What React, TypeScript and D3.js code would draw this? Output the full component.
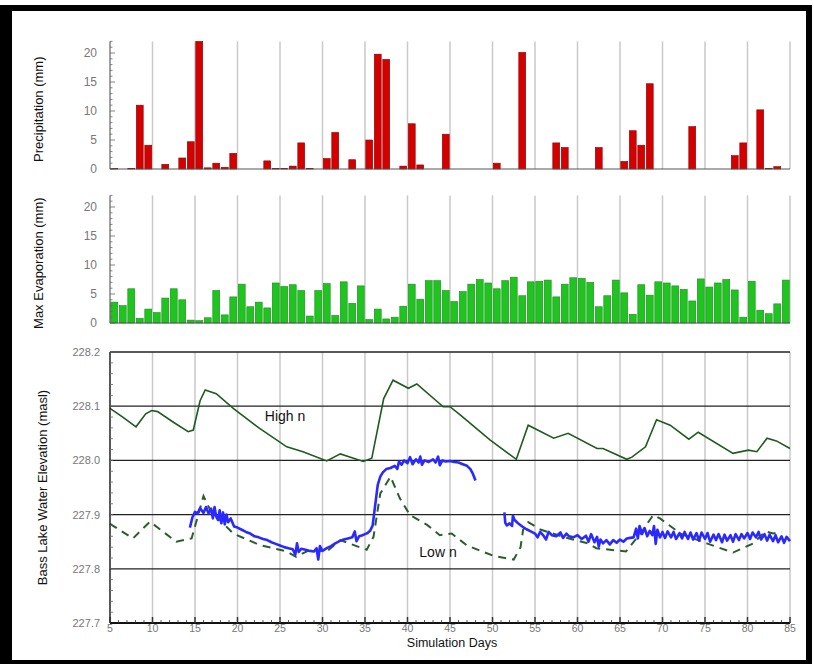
import React, { useEffect, useRef } from "react";
import * as d3 from "d3";

// daily bars, days 5..84
const barDays = d3.range(5, 85);

const precip = [
  0.1, 0, 0.1, 11.0, 4.1, 0, 0.8, 0, 1.9, 4.7,
  22, 0.2, 1.0, 0.3, 2.7, 0, 0, 0, 1.4, 0.1,
  0.1, 0.5, 4.5, 0.1, 0, 1.8, 6.3, 0, 1.6, 0,
  5.0, 19.8, 18.9, 0, 0.5, 7.8, 0.7, 0, 0, 6.0,
  0, 0, 0, 0, 0, 1.0, 0, 0, 20.1, 0,
  0, 0, 4.5, 3.7, 0, 0, 0, 3.7, 0, 0,
  1.3, 6.6, 4.1, 14.7, 0, 0, 0, 0, 7.3, 0,
  0, 0, 0, 2.3, 4.5, 0, 10.2, 0.1, 0.4, 0,
];

const evap = [
  3.6, 3.0, 5.9, 0.8, 2.4, 1.8, 4.3, 5.9, 4.0, 0.5,
  0.4, 0.9, 5.6, 1.4, 4.5, 6.7, 2.8, 3.6, 2.6, 6.9,
  6.3, 6.6, 5.6, 1.2, 5.6, 6.8, 1.3, 7.1, 3.4, 6.4,
  0.6, 2.4, 0.7, 1.0, 2.9, 6.7, 4.1, 7.3, 7.3, 5.6,
  3.7, 5.4, 6.7, 7.5, 6.9, 5.9, 7.3, 7.9, 4.7, 7.1,
  7.2, 7.4, 4.5, 6.7, 7.8, 7.7, 7.0, 2.8, 4.7, 7.4,
  5.2, 1.5, 6.6, 4.8, 7.1, 6.9, 6.4, 5.8, 3.8, 7.6,
  6.2, 6.9, 7.5, 5.7, 1.0, 7.2, 2.2, 1.6, 3.3, 7.4,
];

const barTicks = [0, 5, 10, 15, 20];
const elevTicks = [227.7, 227.8, 227.9, 228.0, 228.1, 228.2];
const dayTicks = d3.range(5, 90, 5);

// [day, elevation]
const highN = [
  [5, 228.096], [6.5, 228.08], [8.06, 228.062], [9.2, 228.086], [9.9, 228.092], [10.6, 228.09],
  [12.5, 228.07], [14.2, 228.053], [14.8, 228.056], [15.6, 228.11],
  [16.2, 228.13], [17.5, 228.123], [19.5, 228.096], [22.6, 228.059], [25.8, 228.025],
  [27.7, 228.016], [30.5, 227.999], [32.1, 228.012], [34.8, 227.998], [35.8, 228.004],
  [37.2, 228.114], [38.3, 228.148], [40.1, 228.133], [41.1, 228.141], [44.2, 228.099],
  [45, 228.099], [46.2, 228.084], [49.7, 228.038], [52.8, 228.002], [54.2, 228.065],
  [57.2, 228.041], [58.9, 228.05], [62.3, 228.022], [63.0, 228.022], [65.8, 228.002],
  [66.4, 228.006], [68.0, 228.025], [69.3, 228.075], [70.9, 228.065], [73.1, 228.039],
  [74.2, 228.052], [78.3, 228.013], [80.1, 228.019], [81.1, 228.016], [82.3, 228.041],
  [83.4, 228.036], [85, 228.022],
];

const lowN = [
  [5, 227.883], [7.7, 227.856], [9.7, 227.887], [12.8, 227.85], [14.6, 227.856],
  [16.0, 227.934], [16.8, 227.908], [19.5, 227.865], [22.6, 227.844], [25.8, 227.832],
  [26.9, 227.822], [28.5, 227.835], [30.5, 227.832], [32.1, 227.853], [35.2, 227.835],
  [36.0, 227.859], [36.8, 227.939], [38.0, 227.97], [39.1, 227.93], [40.3, 227.899],
  [42.3, 227.881], [43.8, 227.862], [45.2, 227.865], [47, 227.843], [50.1, 227.824],
  [52.5, 227.817], [53.3, 227.84], [53.6, 227.872], [54.2, 227.886], [55.7, 227.872],
  [58.5, 227.858], [61.2, 227.847], [62.2, 227.838], [65.7, 227.832], [67.4, 227.865],
  [68.9, 227.899], [69.7, 227.893], [72.1, 227.865], [75.2, 227.847], [78.3, 227.83],
  [80.7, 227.847], [82.1, 227.869], [83, 227.865], [84, 227.868],
];

const obsA = [
  [14.4, 227.876], [14.7, 227.895], [15.0, 227.905], [15.3, 227.902], [15.6, 227.912],
  [16.0, 227.903], [16.3, 227.914], [16.6, 227.902], [16.9, 227.911], [17.1, 227.893],
  [17.3, 227.914], [17.5, 227.896], [17.7, 227.89], [17.9, 227.908], [18.1, 227.884],
  [18.3, 227.904], [18.5, 227.882], [18.7, 227.9], [18.9, 227.886], [19.2, 227.893],
  [19.6, 227.878], [20.0, 227.876], [20.5, 227.872], [21, 227.868], [21.5, 227.865],
  [22, 227.86], [22.5, 227.858], [23, 227.855], [23.5, 227.853], [24, 227.849],
  [24.5, 227.846], [25, 227.843], [25.5, 227.84], [26, 227.838], [26.5, 227.836],
  [26.8, 227.826], [27, 227.847], [27.2, 227.831], [27.5, 227.837], [28, 227.835],
  [28.5, 227.833], [29, 227.832], [29.3, 227.838], [29.5, 227.817], [29.7, 227.842],
  [30, 227.833], [30.5, 227.838], [31, 227.842], [31.5, 227.847], [32, 227.851],
  [32.5, 227.854], [33, 227.856], [33.5, 227.858], [33.8, 227.869], [34, 227.851],
  [34.3, 227.86], [34.7, 227.862], [35, 227.864], [35.3, 227.866], [35.6, 227.87],
  [35.9, 227.88], [36.1, 227.905], [36.3, 227.93], [36.5, 227.955], [36.8, 227.97],
  [37.1, 227.978], [37.5, 227.984], [38, 227.986], [38.5, 227.99], [38.8, 227.984],
  [39, 227.998], [39.3, 227.992], [39.6, 228.0], [40, 227.995], [40.3, 228.006],
  [40.6, 227.993], [41, 228.002], [41.3, 227.996], [41.5, 228.007], [41.7, 227.992],
  [42, 228.0], [42.5, 227.997], [43, 228.002], [43.3, 227.996], [43.6, 228.007],
  [43.8, 227.991], [44.1, 228.0], [44.5, 227.998], [45, 227.999], [45.5, 227.997],
  [46, 227.996], [46.5, 227.993], [47, 227.99], [47.4, 227.984], [47.7, 227.975],
  [48, 227.963],
];

const obsB = [
  [51.4, 227.904], [51.5, 227.885], [51.7, 227.88], [52, 227.884], [52.3, 227.879],
  [52.4, 227.898], [52.6, 227.89], [53, 227.884], [53.5, 227.878], [54, 227.873],
  [54.5, 227.869], [55, 227.865], [55.3, 227.858], [55.6, 227.868], [56, 227.861],
  [56.3, 227.854], [56.6, 227.868], [57, 227.862], [57.5, 227.86], [58, 227.867],
  [58.3, 227.857], [58.7, 227.865], [59, 227.86], [59.5, 227.858], [60, 227.862],
  [60.5, 227.855], [61, 227.861], [61.3, 227.85], [61.6, 227.864], [62, 227.849],
  [62.3, 227.859], [62.5, 227.841], [62.7, 227.854], [63, 227.847], [63.4, 227.853],
  [63.8, 227.845], [64.2, 227.853], [64.6, 227.848], [65, 227.854], [65.4, 227.85],
  [65.8, 227.856], [66.2, 227.857], [66.6, 227.858], [66.9, 227.874], [67.1, 227.856],
  [67.3, 227.879], [67.6, 227.864], [67.9, 227.875], [68.2, 227.86], [68.5, 227.87],
  [68.8, 227.862], [69, 227.879], [69.2, 227.846], [69.4, 227.872], [69.7, 227.858],
  [70, 227.868], [70.3, 227.857], [70.6, 227.869], [71, 227.858], [71.3, 227.868],
  [71.6, 227.855], [72, 227.866], [72.3, 227.856], [72.6, 227.868], [73, 227.855],
  [73.3, 227.867], [73.6, 227.854], [74, 227.866], [74.3, 227.852], [74.6, 227.867],
  [75, 227.855], [75.3, 227.866], [75.6, 227.85], [76, 227.863], [76.3, 227.853],
  [76.6, 227.864], [77, 227.849], [77.3, 227.863], [77.6, 227.852], [78, 227.862],
  [78.3, 227.85], [78.6, 227.864], [79, 227.853], [79.3, 227.864], [79.6, 227.856],
  [80, 227.866], [80.3, 227.855], [80.6, 227.867], [81, 227.858], [81.3, 227.868],
  [81.6, 227.854], [82, 227.864], [82.3, 227.852], [82.6, 227.863], [83, 227.851],
  [83.3, 227.862], [83.6, 227.849], [84, 227.86], [84.3, 227.848], [84.6, 227.859],
  [85, 227.851],
];

const FONT = "Liberation Sans, Arial, Helvetica, sans-serif";

const Chart = () => {
  const ref = useRef<SVGSVGElement>(null);

  useEffect(() => {
    document.body.style.margin = "0";
    const svg = d3.select(ref.current);
    svg.selectAll("*").remove();

    // frame
    svg.append("rect").attr("x", 0).attr("y", 5).attr("width", 812).attr("height", 659).attr("fill", "#000");
    svg.append("rect").attr("x", 12).attr("y", 11).attr("width", 794).attr("height", 649).attr("fill", "#fff");

    const x = d3.scaleLinear().domain([5, 85]).range([110, 790]);

    const barPanel = (values: number[], y0: number, color: string, edge: string, title: string) => {
      const y = d3.scaleLinear().domain([0, 22]).range([y0, y0 - 127.6]);
      const g = svg.append("g");
      // vertical grid
      g.selectAll("line.grid")
        .data(dayTicks.slice(1))
        .join("line")
        .attr("x1", (d) => x(d)).attr("x2", (d) => x(d))
        .attr("y1", y(22)).attr("y2", y(0))
        .attr("stroke", "#c9c9c9").attr("stroke-width", 1.5);
      // bars
      g.selectAll("rect")
        .data(barDays)
        .join("rect")
        .attr("x", (d) => x(d) + 0.8)
        .attr("width", (d) => x(d + 1) - x(d) - 1.6)
        .attr("y", (d, i) => y(values[i]))
        .attr("height", (d, i) => y(0) - y(values[i]))
        .attr("fill", color)
        .attr("stroke", edge)
        .attr("stroke-width", 0.6)
        .attr("display", (d, i) => (values[i] > 0 ? null : "none"));
      // baseline
      g.append("line").attr("x1", x(5)).attr("x2", x(85)).attr("y1", y(0)).attr("y2", y(0))
        .attr("stroke", "#555").attr("stroke-width", 1);
      // left axis
      const ax = g.append("g").attr("transform", `translate(${x(5)},0)`);
      ax.append("line").attr("y1", y(22)).attr("y2", y(0)).attr("stroke", "#444").attr("stroke-width", 1);
      ax.selectAll("line.minor")
        .data(d3.range(0, 23, 1))
        .join("line")
        .attr("x1", 0).attr("x2", (d) => (d % 5 === 0 ? 5 : 2.5))
        .attr("y1", (d) => y(d)).attr("y2", (d) => y(d))
        .attr("stroke", "#666").attr("stroke-width", 0.8);
      ax.selectAll("text")
        .data(barTicks)
        .join("text")
        .attr("x", -13).attr("y", (d) => y(d) + 4)
        .attr("text-anchor", "end")
        .attr("font-family", FONT).attr("font-size", 12).attr("fill", "#777")
        .text((d) => d);
      g.append("text")
        .attr("transform", `translate(43,${(y(0) + y(22)) / 2 + 4}) rotate(-90)`)
        .attr("text-anchor", "middle")
        .attr("font-family", FONT).attr("font-size", 13).attr("fill", "#111")
        .text(title);
    };

    barPanel(precip, 169, "#d40000", "#8a0000", "Precipitation (mm)");
    barPanel(evap, 323, "#20c420", "#159015", "Max Evaporation (mm)");

    // elevation panel
    const y = d3.scaleLinear().domain([227.7, 228.2]).range([623, 352]);
    const g = svg.append("g");
    g.selectAll("line.vgrid")
      .data(dayTicks.slice(1))
      .join("line")
      .attr("x1", (d) => x(d)).attr("x2", (d) => x(d))
      .attr("y1", y(228.2)).attr("y2", y(227.7))
      .attr("stroke", "#c9c9c9").attr("stroke-width", 1.5);
    g.selectAll("line.hgrid")
      .data(elevTicks.slice(1))
      .join("line")
      .attr("x1", x(5)).attr("x2", x(85))
      .attr("y1", (d) => y(d)).attr("y2", (d) => y(d))
      .attr("stroke", "#222").attr("stroke-width", 1.3);

    const line = d3.line<number[]>().x((d) => x(d[0])).y((d) => y(d[1]));

    g.append("path").attr("d", line(lowN)).attr("fill", "none")
      .attr("stroke", "#2a5e2a").attr("stroke-width", 2).attr("stroke-dasharray", "8,6");
    g.append("path").attr("d", line(highN)).attr("fill", "none")
      .attr("stroke", "#1f5a1f").attr("stroke-width", 1.6);
    [obsA, obsB].forEach((s) => {
      g.append("path").attr("d", line(s)).attr("fill", "none")
        .attr("stroke", "#2a2aff").attr("stroke-width", 2.6).attr("stroke-linejoin", "round");
    });

    // left axis
    const ax = g.append("g").attr("transform", `translate(${x(5)},0)`);
    ax.append("line").attr("y1", y(228.2)).attr("y2", y(227.7)).attr("stroke", "#222").attr("stroke-width", 1.5);
    ax.selectAll("line.minor")
      .data(d3.range(0, 26).map((i) => 227.7 + i * 0.02))
      .join("line")
      .attr("x1", 0).attr("x2", 3)
      .attr("y1", (d) => y(d)).attr("y2", (d) => y(d))
      .attr("stroke", "#666").attr("stroke-width", 0.8);
    ax.selectAll("text")
      .data(elevTicks)
      .join("text")
      .attr("x", -10).attr("y", (d) => y(d) + 4)
      .attr("text-anchor", "end")
      .attr("font-family", FONT).attr("font-size", 11).attr("fill", "#777")
      .text((d) => d.toFixed(1));

    // bottom axis
    const bx = g.append("g");
    bx.append("line").attr("x1", x(5)).attr("x2", x(85)).attr("y1", y(227.7)).attr("y2", y(227.7))
      .attr("stroke", "#111").attr("stroke-width", 2);
    bx.selectAll("line.tick")
      .data(d3.range(5, 86))
      .join("line")
      .attr("x1", (d) => x(d)).attr("x2", (d) => x(d))
      .attr("y1", y(227.7)).attr("y2", (d) => y(227.7) - (d % 5 === 0 ? 6 : 3))
      .attr("stroke", "#333").attr("stroke-width", (d) => (d % 5 === 0 ? 1.5 : 0.8));
    bx.selectAll("text")
      .data(dayTicks)
      .join("text")
      .attr("x", (d) => x(d)).attr("y", 632)
      .attr("text-anchor", "middle")
      .attr("font-family", FONT).attr("font-size", 10.5).attr("fill", "#777")
      .text((d) => d);

    svg.append("text").attr("x", 452).attr("y", 647).attr("text-anchor", "middle")
      .attr("font-family", FONT).attr("font-size", 12.5).attr("fill", "#111").text("Simulation Days");
    svg.append("text")
      .attr("transform", `translate(47,${(y(227.7) + y(228.2)) / 2}) rotate(-90)`)
      .attr("text-anchor", "middle")
      .attr("font-family", FONT).attr("font-size", 13).attr("fill", "#111")
      .text("Bass Lake Water Elevation (masl)");
    svg.append("text").attr("x", 285).attr("y", 421).attr("text-anchor", "middle")
      .attr("font-family", FONT).attr("font-size", 14).attr("fill", "#111").text("High n");
    svg.append("text").attr("x", 438).attr("y", 557).attr("text-anchor", "middle")
      .attr("font-family", FONT).attr("font-size", 14).attr("fill", "#111").text("Low n");
  });

  return (
    <div>
      <svg ref={ref} width={814} height={664} style={{ display: "block" }}></svg>
    </div>
  );
};

export default function App() {
  return <Chart />;
}
